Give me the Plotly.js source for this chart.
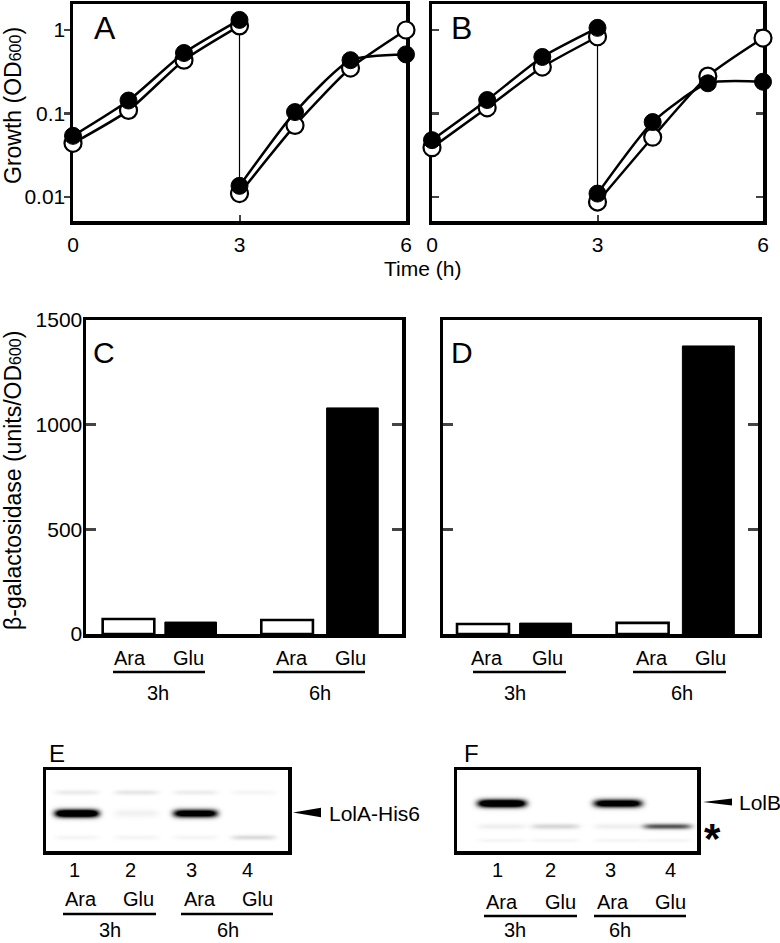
<!DOCTYPE html>
<html>
<head>
<meta charset="utf-8">
<script src="https://cdn.plot.ly/plotly-3.0.1.min.js"></script>
<style>html,body{margin:0;padding:0;background:#fff;}#chart{width:780px;height:943px;}</style>
</head>
<body>
<div id="chart"></div>
<script>
// ---------------- DATA ----------------
// Growth curves (OD600) – time in hours
const hoursPre  = [0, 1, 2, 3];
const hoursPost = [3, 4, 5, 6];
// Panel A
const A_openPre    = [0.044, 0.109, 0.435, 1.12];
const A_openPost   = [0.011, 0.072, 0.35, 1.0];
const A_filledPre  = [0.054, 0.143, 0.53, 1.32];
const A_filledPost = [0.0136, 0.104, 0.435, 0.51];
// Panel B
const B_openPre    = [0.039, 0.117, 0.36, 0.83];
const B_openPost   = [0.0087, 0.052, 0.28, 0.80];
const B_filledPre  = [0.048, 0.145, 0.475, 1.06];
const B_filledPost = [0.011, 0.079, 0.23, 0.24];
const growthTicks = [0.01, 0.1, 1];
const growthTickText = ['0.01', '0.1', '1'];
const timeTicks = [0, 3, 6];

// β-galactosidase (units/OD600)
const barGroups = ['3h', '6h'];
const barConds  = ['Ara', 'Glu'];
const C_ara = [72, 67];
const C_glu = [57, 1080];
const D_ara = [48, 53];
const D_glu = [52, 1376];
const galTicks = [0, 500, 1000, 1500];

// Western blots: relative band intensities per lane (lanes 1-4)
const laneNumbers = ['1', '2', '3', '4'];
const laneConds   = ['Ara', 'Glu', 'Ara', 'Glu'];
const E_upperBand = [0.05, 0.06, 0.045, 0.025];
const E_lolABand  = [1.0, 0.035, 0.85, 0.0];
const E_lowerBand = [0.025, 0.025, 0.025, 0.09];
const F_lolBBand  = [1.0, 0.0, 0.85, 0.0];
const F_starBand  = [0.04, 0.10, 0.04, 0.42];
const F_lowerBand = [0.025, 0.025, 0.025, 0.025];

// ---------------- LAYOUT HELPERS ----------------
const W = 780, H = 943;
const FONT = 'Liberation Sans, Arial, sans-serif';
const px = x => x / W;
const py = y => 1 - y / H;
const dom = (a, b) => [px(a), px(b)];
const domY = (top, bottom) => [py(bottom), py(top)];

function txt(text, x, y, size, extra) {
  return Object.assign({
    text: text, x: px(x), y: py(y), xref: 'paper', yref: 'paper',
    showarrow: false, xanchor: 'center', yanchor: 'middle',
    font: {family: FONT, size: size, color: '#000'}
  }, extra || {});
}
function hline(x0, x1, y, w) {
  return {type: 'line', xref: 'paper', yref: 'paper', x0: px(x0), x1: px(x1),
          y0: py(y), y1: py(y), line: {color: '#000', width: w || 2.5}};
}
function tri(tipX, tipY, baseX, halfH) {
  return {type: 'path', xref: 'paper', yref: 'paper',
    path: `M ${px(tipX)} ${py(tipY)} L ${px(baseX)} ${py(tipY - halfH)} L ${px(baseX)} ${py(tipY + halfH)} Z`,
    fillcolor: '#000', line: {color: '#000', width: 0}};
}

const frame = {showline: true, linecolor: '#000', linewidth: 3.5, mirror: true,
               showgrid: false, zeroline: false, fixedrange: true};

// ---------------- TRACES ----------------
const traces = [];
const lineStyle = {color: '#000', width: 2.5, shape: 'spline', smoothing: 0.6};
const openMarker = {symbol: 'circle', size: 17, color: '#fff', line: {color: '#000', width: 2.2}};
const filledMarker = {symbol: 'circle', size: 17, color: '#000', line: {color: '#000', width: 1}};

function growthPanel(xa, ya, openPre, openPost, filledPre, filledPost) {
  // dilution line at 3 h
  traces.push({x: [hoursPre[3], hoursPost[0]], y: [Math.max(openPre[3], filledPre[3]), Math.min(openPost[0], filledPost[0])],
    xaxis: xa, yaxis: ya, mode: 'lines', line: {color: '#000', width: 1.2}, cliponaxis: false, hoverinfo: 'skip'});
  [[openPre, openMarker], [openPost, openMarker], [filledPre, filledMarker], [filledPost, filledMarker]].forEach((s, i) => {
    traces.push({x: (i % 2 === 0) ? hoursPre : hoursPost, y: s[0], xaxis: xa, yaxis: ya,
      mode: 'lines+markers', line: lineStyle, marker: s[1], cliponaxis: false});
  });
}
growthPanel('x', 'y', A_openPre, A_openPost, A_filledPre, A_filledPost);
growthPanel('x2', 'y2', B_openPre, B_openPost, B_filledPre, B_filledPost);

// bar positions (layout only)
const araPos = [1, 3.55], gluPos = [2, 4.6], barW = 0.83;
function barPanel(xa, ya, ara, glu) {
  traces.push({type: 'bar', x: araPos, y: ara, width: barW, xaxis: xa, yaxis: ya,
    marker: {color: '#fff', line: {color: '#000', width: 2.6}}});
  traces.push({type: 'bar', x: gluPos, y: glu, width: barW, xaxis: xa, yaxis: ya,
    marker: {color: '#000', line: {color: '#000', width: 1}}});
}
barPanel('x3', 'y3', C_ara, C_glu);
barPanel('x4', 'y4', D_ara, D_glu);

// blot heatmaps (x, y in pixels inside the frame)
function blot(xa, ya, widthPx, heightPx, laneCenters, halfW, bands) {
  const xs = [], ys = [], z = [];
  for (let x = 0; x <= widthPx; x += 1) xs.push(x);
  for (let y = 0; y <= heightPx; y += 1) ys.push(y);
  ys.forEach(y => {
    const row = [];
    xs.forEach(x => {
      let s = 0;
      bands.forEach(b => {
        b.vals.forEach((v, k) => {
          if (!v) return;
          const dx = (x - laneCenters[k]) / halfW, dy = (y - b.y) / b.hh;
          s += v * Math.exp(-(Math.pow(dx, 6) + dy * dy));
        });
      });
      row.push(Math.min(1, 1.6 * s));
    });
    z.push(row);
  });
  traces.push({type: 'heatmap', x: xs, y: ys, z: z, xaxis: xa, yaxis: ya,
    colorscale: [[0, '#ffffff'], [1, '#000000']], zmin: 0, zmax: 1,
    showscale: false, zsmooth: 'best', hoverinfo: 'skip'});
}
blot('x5', 'y5', 242, 81, [30.5, 90, 149, 207], 22, [
  {vals: E_upperBand, y: 22, hh: 2.5},
  {vals: E_lolABand, y: 43, hh: 4.0},
  {vals: E_lowerBand, y: 67, hh: 2.5}
]);
blot('x6', 'y6', 240, 81, [44.5, 98, 160.5, 210], 24, [
  {vals: F_lolBBand, y: 33, hh: 4.0},
  {vals: F_starBand, y: 56, hh: 2.8},
  {vals: F_lowerBand, y: 70, hh: 2.0}
]);

// ---------------- AXES ----------------
const logY = [Math.log10(0.01) - 0.287, 0.311];
const layout = {
  width: W, height: H, margin: {l: 0, r: 0, t: 0, b: 0},
  paper_bgcolor: '#fff', plot_bgcolor: '#fff', showlegend: false,
  font: {family: FONT, color: '#000'},
  bargap: 0,
  xaxis: Object.assign({}, frame, {domain: dom(73, 406), anchor: 'y', range: [0, 6], layer: 'below traces',
    tickvals: timeTicks, ticks: 'inside', ticklen: 6, tickwidth: 2, tickfont: {size: 21, family: FONT}, ticklabelstandoff: 2}),
  yaxis: Object.assign({}, frame, {domain: domY(4, 221), anchor: 'x', type: 'log', range: logY, layer: 'below traces',
    tickvals: growthTicks, ticktext: growthTickText, ticks: 'outside', ticklen: 6, tickwidth: 2.5,
    tickfont: {size: 21, family: FONT}, ticklabelstandoff: -6}),
  xaxis2: Object.assign({}, frame, {domain: dom(432, 763), anchor: 'y2', range: [0, 6], layer: 'below traces',
    tickvals: timeTicks, ticks: 'inside', ticklen: 6, tickwidth: 2, tickfont: {size: 21, family: FONT}, ticklabelstandoff: 2}),
  yaxis2: Object.assign({}, frame, {domain: domY(4, 221), anchor: 'x2', type: 'log', range: logY, layer: 'below traces',
    tickvals: growthTicks, ticks: 'inside', ticklen: 7, tickwidth: 2.5, mirror: 'ticks', showticklabels: false}),
  xaxis3: Object.assign({}, frame, {domain: dom(86, 402), anchor: 'y3', range: [0.317, 5.397], showticklabels: false, ticks: ''}),
  yaxis3: Object.assign({}, frame, {domain: domY(320, 634), anchor: 'x3', range: [0, 1500],
    tickvals: galTicks, ticks: 'inside', ticklen: 10, tickwidth: 3, mirror: 'ticks',
    tickfont: {size: 21, family: FONT}, ticklabelstandoff: -4}),
  xaxis4: Object.assign({}, frame, {domain: dom(443, 758), anchor: 'y4', range: [0.361, 5.393], showticklabels: false, ticks: ''}),
  yaxis4: Object.assign({}, frame, {domain: domY(320, 634), anchor: 'x4', range: [0, 1500],
    tickvals: galTicks, ticks: 'inside', ticklen: 10, tickwidth: 3, mirror: 'ticks', showticklabels: false}),
  xaxis5: Object.assign({}, frame, {domain: dom(46, 288), anchor: 'y5', range: [0, 242], showticklabels: false, ticks: ''}),
  yaxis5: Object.assign({}, frame, {domain: domY(770, 851), anchor: 'x5', range: [81, 0], showticklabels: false, ticks: ''}),
  xaxis6: Object.assign({}, frame, {domain: dom(457, 697), anchor: 'y6', range: [0, 240], showticklabels: false, ticks: ''}),
  yaxis6: Object.assign({}, frame, {domain: domY(770, 851), anchor: 'x6', range: [81, 0], showticklabels: false, ticks: ''}),
  annotations: [], shapes: []
};

const ann = layout.annotations, shp = layout.shapes;
// axis titles
ann.push(txt('Growth (OD<span style="font-size:16px">600</span>)', 13, 106, 23, {textangle: -90}));
ann.push(txt('β-galactosidase (units/OD<span style="font-size:16px">600</span>)', 13, 481, 23, {textangle: -90}));
ann.push(txt('Time (h)', 422, 268, 21));
// panel letters
ann.push(txt('A', 105, 28, 32), txt('B', 461, 28, 32), txt('C', 104, 352, 30), txt('D', 462, 352, 30),
         txt('E', 57, 753, 24), txt('F', 472, 753, 24));

// labels under bar panels
function barLabels(araX, gluX, lineX, grpX) {
  for (let g = 0; g < 2; g++) {
    ann.push(txt(barConds[0], araX[g], 658, 20), txt(barConds[1], gluX[g], 658, 20));
    shp.push(hline(lineX[g][0], lineX[g][1], 672));
    ann.push(txt(barGroups[g], grpX[g], 693, 20));
  }
}
barLabels([130, 292], [188, 350], [[113, 205], [273, 365]], [158, 320]);
barLabels([487, 652], [547, 710], [[473, 566], [633, 726]], [515, 682]);

// labels under blots
function blotLabels(numX, numY, condX, condY, lineX, lineY, grpX) {
  laneNumbers.forEach((n, i) => ann.push(txt(n, numX[i], numY, 20)));
  laneConds.forEach((c, i) => ann.push(txt(c, condX[i], condY, 20)));
  for (let g = 0; g < 2; g++) {
    shp.push(hline(lineX[g][0], lineX[g][1], lineY));
    ann.push(txt(barGroups[g], grpX[g], 943, 20, {yanchor: 'bottom'}));
  }
}
blotLabels([74, 130, 191, 247], 870, [81, 138, 200, 257], 899, [[63, 156], [181, 273]], 914, [110, 228]);
blotLabels([498, 550, 610, 670], 870, [502, 560, 613, 670], 902, [[484, 577], [594, 686]], 916, [515, 620]);

// band markers
shp.push(tri(293, 812.5, 321, 4.7), tri(703, 802, 732, 3.6));
ann.push(txt('LolA-His6', 327, 813, 21, {xanchor: 'left'}));
ann.push(txt('LolB', 737, 802, 21, {xanchor: 'left'}));
ann.push(txt('<b>*</b>', 712, 838, 42));

Plotly.newPlot('chart', traces, layout, {staticPlot: true, displayModeBar: false});
</script>
</body>
</html>
